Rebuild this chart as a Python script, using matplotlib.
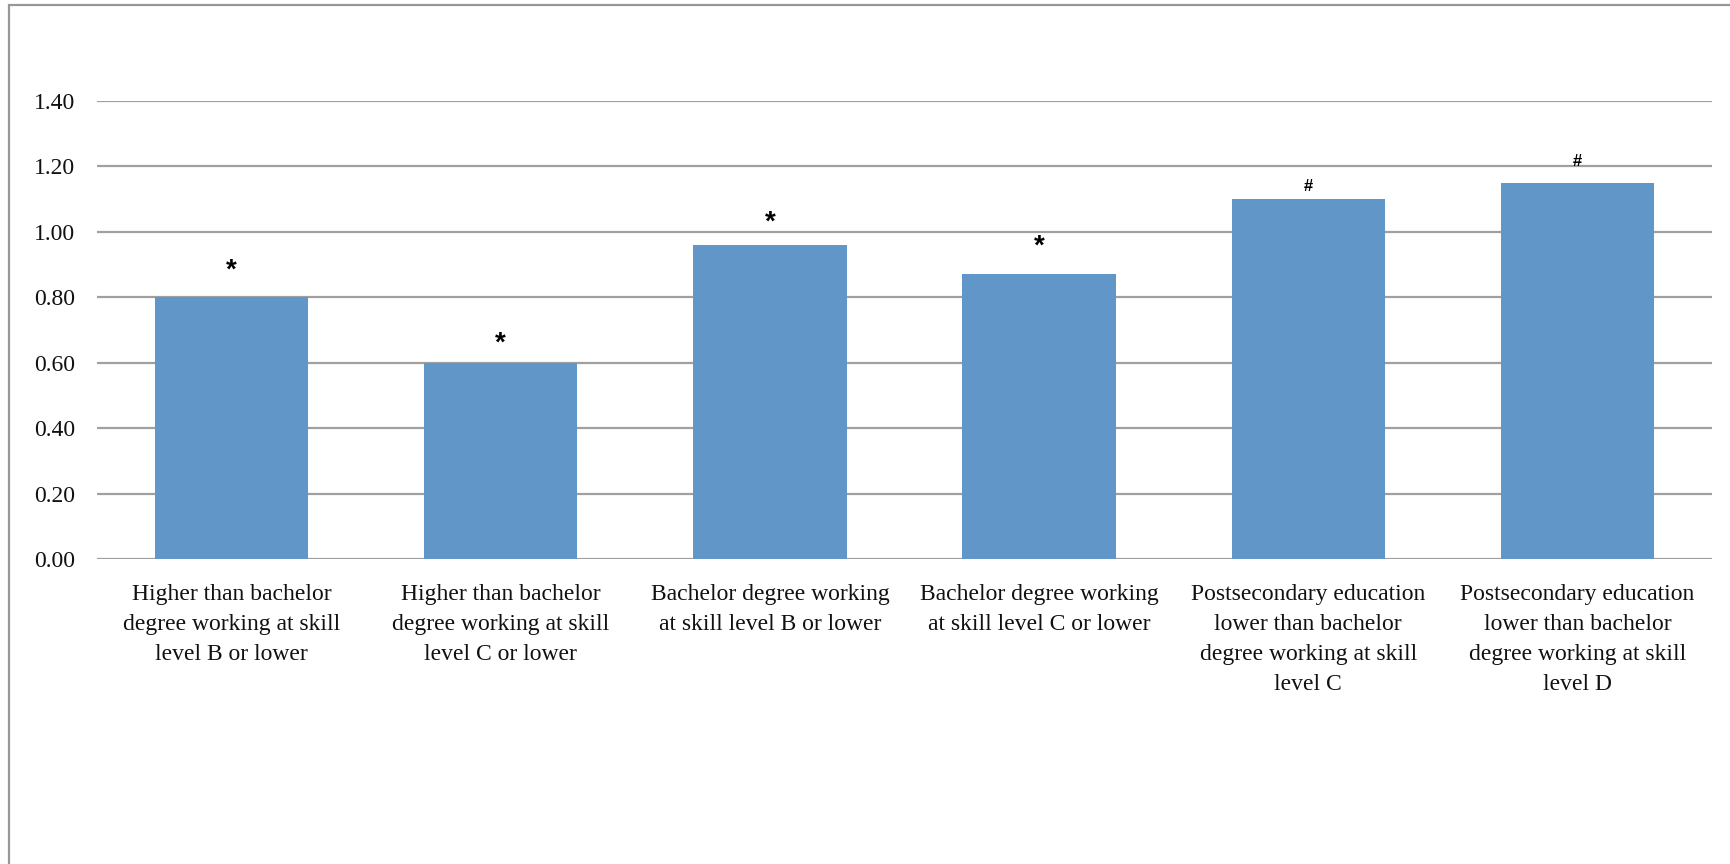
import matplotlib.pyplot as plt
import matplotlib.patches as pat
import numpy as np

categories = [
    "Higher than bachelor\ndegree working at skill\nlevel B or lower",
    "Higher than bachelor\ndegree working at skill\nlevel C or lower",
    "Bachelor degree working\nat skill level B or lower",
    "Bachelor degree working\nat skill level C or lower",
    "Postsecondary education\nlower than bachelor\ndegree working at skill\nlevel C",
    "Postsecondary education\nlower than bachelor\ndegree working at skill\nlevel D",
]
values = [0.80, 0.60, 0.96, 0.87, 1.10, 1.15]
marks = ["*", "*", "*", "*", "#", "#"]
yticks = [0.0, 0.2, 0.4, 0.6, 0.8, 1.0, 1.2, 1.4]

# mark placement above each bar (points) and glyph size
mark_offset = [19, 14, 16, 20, 9, 15]
mark_size = {"*": 20, "#": 12}

bar_color = "#6196C9"
grid_color = "#A0A0A0"
serif = ["Liberation Serif", "DejaVu Serif"]

fig = plt.figure(figsize=(17.3, 8.64), dpi=100)
ax = fig.add_axes([97/1730, 1 - 559/864, (1712 - 97)/1730, (559 - 101)/864])

# outer chart frame (left and top edges only show)
fig.patches.append(pat.Rectangle((9/1730, -0.05), 1.2, 1 - 5/864 + 0.05,
                                 transform=fig.transFigure, fill=False,
                                 ec="#979797", lw=1.6))

x = np.arange(len(values))
ax.bar(x, values, width=0.57, color=bar_color, zorder=2)

for xi, v, m, off in zip(x, values, marks, mark_offset):
    ax.annotate(m, (xi, v), xytext=(0, off), textcoords="offset points",
                ha="center", va="center", fontsize=mark_size[m],
                fontweight="bold", family=["Liberation Sans", "DejaVu Sans"])

ax.set_xlim(-0.5, len(values) - 0.5)
ax.set_ylim(0, 1.4)
ax.set_yticks(yticks)
ax.set_yticklabels([f"{t:.2f}" for t in yticks], family=serif, fontsize=17)
ax.set_xticks(x)
ax.set_xticklabels(categories, family=serif, fontsize=17, linespacing=1.57)
ax.tick_params(axis="both", length=0, colors="#111111")
ax.tick_params(axis="y", pad=16)
ax.tick_params(axis="x", pad=18)

ax.yaxis.grid(True, color=grid_color, lw=1.6, zorder=0)
ax.set_axisbelow(True)
for s in ax.spines.values():
    s.set_visible(False)

fig.savefig("out.png", dpi=100)
